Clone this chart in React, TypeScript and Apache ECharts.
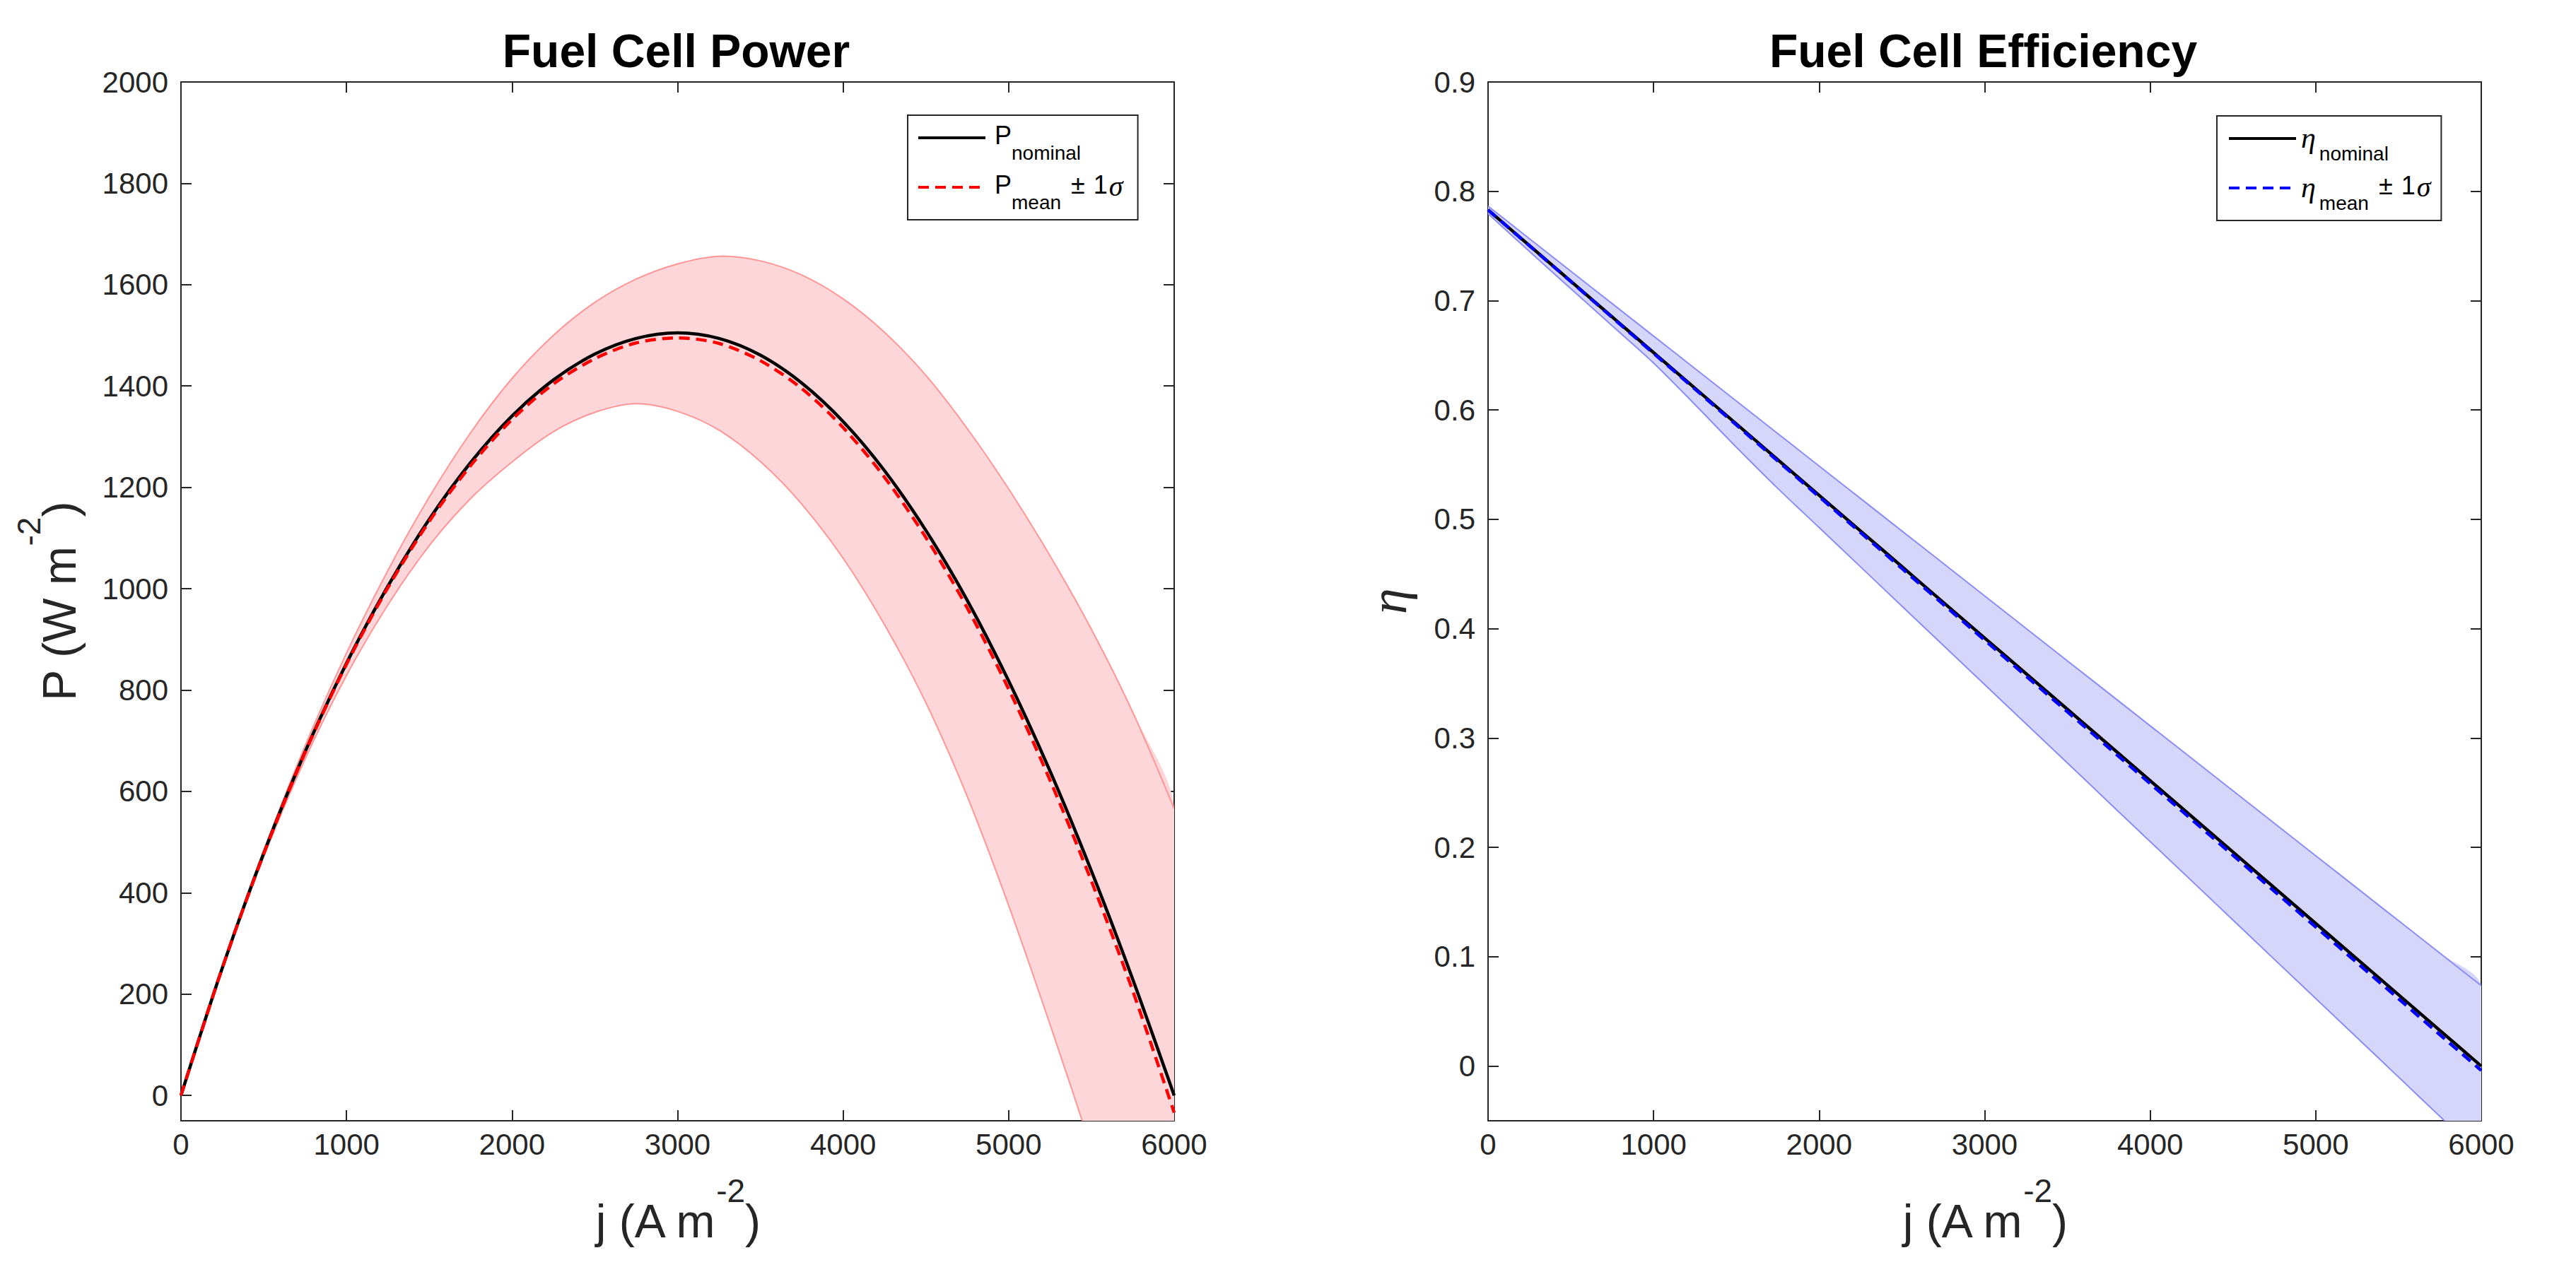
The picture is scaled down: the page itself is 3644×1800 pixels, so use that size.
import React, { useEffect, useRef } from 'react';
import * as echarts from 'echarts';

// ---------------- data ----------------
const J = [0, 250, 500, 750, 1000, 1250, 1500, 1750, 2000, 2250, 2500, 2750, 3000, 3250, 3500, 3750, 4000, 4250, 4500, 4750, 5000, 5250, 5500, 5750, 6000];

const P_NOMINAL = [0, 252, 478, 678, 853, 1005, 1137, 1249, 1341, 1412, 1463, 1494, 1505, 1494, 1461, 1406, 1330, 1233, 1115, 977, 818, 640, 443, 229, 0];
const P_MEAN = [0, 252, 477, 677, 851, 1002, 1133, 1243, 1334, 1404, 1454, 1485, 1495, 1484, 1450, 1395, 1318, 1220, 1101, 962, 802, 622, 423, 206, -34];
const P_UPPER = [0, 254, 483, 690, 873, 1036, 1181, 1308, 1415, 1500, 1565, 1611, 1641, 1656, 1647, 1619, 1572, 1506, 1421, 1316, 1197, 1065, 920, 756, 566];
const P_LOWER = [0, 250, 471, 664, 829, 968, 1085, 1178, 1250, 1310, 1348, 1365, 1350, 1313, 1251, 1167, 1060, 929, 775, 590, 375, 140, -105, -360, -625];

const ETA_NOMINAL = [0.783, 0.7504, 0.7178, 0.6851, 0.6525, 0.6199, 0.5873, 0.5546, 0.522, 0.4894, 0.4568, 0.4241, 0.3915, 0.3589, 0.3263, 0.2936, 0.261, 0.2284, 0.1958, 0.1631, 0.1305, 0.0979, 0.0653, 0.0326, 0];
const ETA_MEAN = [0.783, 0.7502, 0.7175, 0.6846, 0.6518, 0.6191, 0.5863, 0.5534, 0.5207, 0.4879, 0.4551, 0.4223, 0.3895, 0.3567, 0.324, 0.2911, 0.2583, 0.2256, 0.1928, 0.1599, 0.1272, 0.0944, 0.0616, 0.0287, -0.004];
const ETA_UPPER = [0.7864, 0.7567, 0.727, 0.6973, 0.6676, 0.6379, 0.6082, 0.5785, 0.5488, 0.5191, 0.4894, 0.4597, 0.43, 0.4003, 0.3706, 0.3409, 0.3112, 0.2815, 0.2518, 0.2221, 0.1924, 0.1627, 0.133, 0.1033, 0.0736];
const ETA_LOWER = [0.7796, 0.745, 0.711, 0.677, 0.643, 0.605, 0.566, 0.5283, 0.4925, 0.4566, 0.4207, 0.3848, 0.3489, 0.313, 0.2772, 0.2412, 0.2053, 0.1695, 0.1336, 0.0976, 0.0618, 0.0259, -0.01, -0.046, -0.0818];

const P_TICKS = [0, 200, 400, 600, 800, 1000, 1200, 1400, 1600, 1800, 2000];
const ETA_TICKS = [0, 0.1, 0.2, 0.3, 0.4, 0.5, 0.6, 0.7, 0.8, 0.9];
const TITLES = ['Fuel Cell Power', 'Fuel Cell Efficiency'];
const SERIES_NAMES = ['P_nominal', 'P_mean', 'eta_nominal', 'eta_mean'];

// ---------------- styles ----------------
const FONT = "'Liberation Sans', Arial, Helvetica, sans-serif";
const SERIF = "'Liberation Serif', 'Times New Roman', serif";
const AX = '#262626';
const SMOOTH = 0.3;
const GRID_W = 1405;
const GRID_H = 1470;
const TICK_FONT = 42;

const pairs = (ys: number[]) => J.map((j, i) => [j, ys[i]]);
const plain = (v: number) => String(v);

function bandSeries(name: string, xi: number, yi: number, lower: number[], upper: number[], fill: string, edge: string) {
  return {
    type: 'custom',
    name,
    xAxisIndex: xi,
    yAxisIndex: yi,
    silent: true,
    clip: true,
    z: 1,
    data: J.map((j, i) => [j, lower[i], upper[i]]),
    encode: { x: 0, y: [1, 2] },
    renderItem: (params: any, api: any) => {
      if (params.dataIndex !== 0) return null;
      const up: number[][] = J.map((j, i) => api.coord([j, upper[i]]));
      const lo: number[][] = J.map((j, i) => api.coord([j, lower[i]]));
      const poly = up.concat(lo.slice().reverse());
      return {
        type: 'group',
        children: [
          { type: 'polygon', shape: { points: poly, smooth: SMOOTH }, style: { fill, stroke: null } },
          { type: 'polyline', shape: { points: up, smooth: SMOOTH }, style: { fill: null, stroke: edge, lineWidth: 2 } },
          { type: 'polyline', shape: { points: lo, smooth: SMOOTH }, style: { fill: null, stroke: edge, lineWidth: 2 } },
        ],
      };
    },
  };
}

function lineSeries(name: string, xi: number, yi: number, ys: number[], color: string, width: number, type: any, z: number) {
  return {
    type: 'line',
    name,
    xAxisIndex: xi,
    yAxisIndex: yi,
    data: pairs(ys),
    symbol: 'none',
    showSymbol: false,
    smooth: SMOOTH,
    silent: true,
    clip: true,
    z,
    lineStyle: { color, width, type },
    itemStyle: { color },
  };
}

function xAxes(gridIndex: number) {
  const base = {
    type: 'value',
    gridIndex,
    min: 0,
    max: 6000,
    interval: 1000,
    splitLine: { show: false },
    axisLine: { show: true, onZero: false, lineStyle: { color: AX, width: 2 } },
    axisTick: { show: true, inside: true, length: 15, lineStyle: { color: AX, width: 2 } },
  };
  return [
    {
      ...base,
      position: 'bottom',
      axisLabel: { show: true, margin: 12, fontFamily: FONT, fontSize: TICK_FONT, color: AX, showMinLabel: true, showMaxLabel: true, formatter: plain },
      name: '{n|j (A m}{sup|-2}{n|)}',
      nameLocation: 'middle',
      nameGap: 75,
      nameMoveOverlap: false,
      nameTextStyle: {
        color: AX,
        rich: {
          n: { fontFamily: FONT, fontSize: 66, lineHeight: 100, verticalAlign: 'bottom', color: AX },
          sup: { fontFamily: FONT, fontSize: 46, lineHeight: 46, verticalAlign: 'bottom', padding: [0, 0, 53, 0], color: AX },
        },
      },
    },
    { ...base, position: 'top', axisLabel: { show: false } },
  ];
}

function yAxes(gridIndex: number, min: number, max: number, ticks: number[], name: string, nameGap: number, nameStyle: any) {
  const base = {
    type: 'value',
    gridIndex,
    min,
    max,
    splitLine: { show: false },
    axisLine: { show: true, onZero: false, lineStyle: { color: AX, width: 2 } },
    axisTick: { show: true, inside: true, length: 15, customValues: ticks, lineStyle: { color: AX, width: 2 } },
  };
  return [
    {
      ...base,
      position: 'left',
      axisLabel: { show: true, margin: 18, fontFamily: FONT, fontSize: TICK_FONT, color: AX, customValues: ticks, formatter: plain },
      name,
      nameLocation: 'middle',
      nameGap,
      nameMoveOverlap: false,
      nameTextStyle: nameStyle,
    },
    { ...base, position: 'right', axisLabel: { show: false, customValues: ticks } },
  ];
}

const legendRich = {
  m0: { fontFamily: FONT, fontSize: 36, lineHeight: 44, verticalAlign: 'top', color: '#000', padding: [0, 0, 0, 8] },
  m: { fontFamily: FONT, fontSize: 36, lineHeight: 44, verticalAlign: 'top', color: '#000' },
  pm: { fontFamily: FONT, fontSize: 36, lineHeight: 44, verticalAlign: 'top', color: '#000', padding: [0, 12, 0, 14] },
  s: { fontFamily: FONT, fontSize: 28, lineHeight: 28, verticalAlign: 'top', color: '#000', padding: [29, 0, 0, 0] },
  g: { fontFamily: SERIF, fontStyle: 'italic', fontSize: 40, lineHeight: 44, verticalAlign: 'top', color: '#000', padding: [0, 0, 0, 2] },
  e: { fontFamily: SERIF, fontStyle: 'italic', fontSize: 42, lineHeight: 44, verticalAlign: 'top', color: '#000', padding: [0, 5, 0, 2] },
};

function legend(left: number, top: number, names: string[], sym: string, pad: number[]) {
  return {
    show: true,
    orient: 'vertical',
    left,
    top,
    data: names,
    itemWidth: 95,
    itemHeight: 14,
    itemGap: 13,
    padding: pad,
    backgroundColor: '#ffffff',
    borderColor: AX,
    borderWidth: 2,
    borderRadius: 0,
    selectedMode: false,
    itemStyle: { opacity: 0 },
    lineStyle: { width: 4 },
    formatter: (name: string) => {
      const head = sym === 'P' ? '{m0|P}' : '{e|η}';
      return name.endsWith('nominal') ? head + '{s|nominal}' : head + '{s|mean}{pm|±}{m|1}{g|σ}';
    },
    textStyle: { fontFamily: FONT, fontSize: 36, color: '#000', rich: legendRich },
  };
}

const option: any = {
  animation: false,
  backgroundColor: '#ffffff',
  title: [
    { text: TITLES[0], left: 256 + GRID_W / 2 - 2, top: 39, textAlign: 'center', padding: 0, textStyle: { fontFamily: FONT, fontSize: 66, fontWeight: 'bold', color: '#000' } },
    { text: TITLES[1], left: 2105 + GRID_W / 2 - 2, top: 39, textAlign: 'center', padding: 0, textStyle: { fontFamily: FONT, fontSize: 66, fontWeight: 'bold', color: '#000' } },
  ],
  grid: [
    { left: 256, top: 116, width: GRID_W, height: GRID_H, containLabel: false, outerBoundsMode: 'none' },
    { left: 2105, top: 116, width: GRID_W, height: GRID_H, containLabel: false, outerBoundsMode: 'none' },
  ],
  xAxis: [...xAxes(0), ...xAxes(1)],
  yAxis: [
    ...yAxes(0, -50, 2000, P_TICKS, '{n|P (W m}{sup|-2}{n|)}', 139, {
      color: AX,
      rich: {
        n: { fontFamily: FONT, fontSize: 66, lineHeight: 100, verticalAlign: 'bottom', color: AX },
        sup: { fontFamily: FONT, fontSize: 46, lineHeight: 46, verticalAlign: 'bottom', padding: [0, 0, 53, 0], color: AX },
      },
    }),
    ...yAxes(1, -0.05, 0.9, ETA_TICKS, 'η', 104, { fontFamily: SERIF, fontStyle: 'italic', fontSize: 74, color: AX }),
  ],
  legend: [
    legend(1284, 163, [SERIES_NAMES[0], SERIES_NAMES[1]], 'P', [10, 21, 11, 13]),
    legend(3136, 164, [SERIES_NAMES[2], SERIES_NAMES[3]], 'η', [10, 15, 11, 15]),
  ],
  series: [
    bandSeries('P band', 0, 0, P_LOWER, P_UPPER, '#FDD6D9', '#FF9696'),
    lineSeries(SERIES_NAMES[0], 0, 0, P_NOMINAL, '#000000', 4.5, 'solid', 3),
    lineSeries(SERIES_NAMES[1], 0, 0, P_MEAN, '#FF0000', 4.5, [15, 9], 4),
    bandSeries('eta band', 2, 2, ETA_LOWER, ETA_UPPER, '#D6D6FB', '#8C8CF5'),
    lineSeries(SERIES_NAMES[2], 2, 2, ETA_NOMINAL, '#000000', 4.5, 'solid', 3),
    lineSeries(SERIES_NAMES[3], 2, 2, ETA_MEAN, '#0000FF', 4.5, [15, 9], 4),
  ],
};

export default function App() {
  const ref = useRef<HTMLDivElement>(null);
  useEffect(() => {
    document.body.style.margin = '0';
    if (!ref.current) return;
    const chart = echarts.init(ref.current, null, { renderer: 'svg' });
    chart.setOption(option);
    return () => chart.dispose();
  }, []);
  return <div ref={ref} style={{ position: 'fixed', left: 0, top: 0, width: 3644, height: 1800, background: '#fff' }} />;
}
